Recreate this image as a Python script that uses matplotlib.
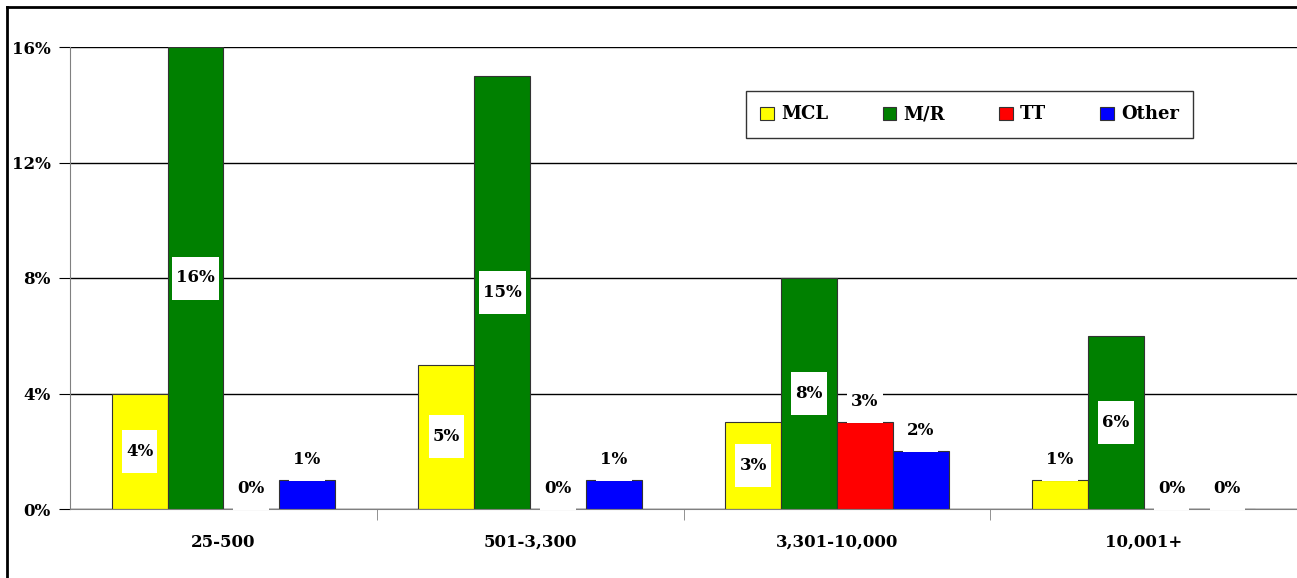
import matplotlib.pyplot as plt
from matplotlib.lines import Line2D
from matplotlib.path import Path
import numpy as np

plt.rcParams['font.family'] = 'DejaVu Serif'
plt.rcParams['font.weight'] = 'bold'

categories = ["25-500", "501-3,300", "3,301-10,000", "10,001+"]
series = ["MCL", "M/R", "TT", "Other"]
colors = ["#FFFF00", "#008000", "#FF0000", "#0000FF"]
mcl = [4, 5, 3, 1]
mr = [16, 15, 8, 6]
tt = [0, 0, 3, 0]
other = [1, 1, 2, 0]
values = [mcl, mr, tt, other]


def label_box(x0, y0, width, height, mutation_size):
    # white label background, taller than it is padded sideways
    px = 0.25 * mutation_size
    py = 0.78 * mutation_size
    x0, x1 = x0 - px, x0 + width + px
    y0, y1 = y0 - py, y0 + height + py
    return Path([(x0, y0), (x1, y0), (x1, y1), (x0, y1), (x0, y0)], closed=True)


fig = plt.figure(figsize=(12.97, 5.78), dpi=100)
ax = fig.add_axes([70 / 1297, 1 - 509 / 578, 1 - 70 / 1297, 462 / 578])

x = np.arange(len(categories))
width = 0.182
fs = 12
for i, (name, vals) in enumerate(zip(series, values)):
    pos = x + (i - 1.5) * width
    bars = ax.bar(pos, vals, width, color=colors[i], edgecolor="#333333",
                  linewidth=0.8, label=name, zorder=2)
    for b, v in zip(bars, vals):
        cx = b.get_x() + b.get_width() / 2
        box = dict(boxstyle=label_box, facecolor="white", edgecolor="none")
        if i < 2 and v >= 3:
            # big MCL / M/R bars get the label in the middle
            ax.text(cx, v / 2, f"{v}%", ha="center", va="center", fontsize=fs,
                    fontweight="bold", zorder=4, bbox=box)
        else:
            ax.annotate(f"{v}%", (cx, v), xytext=(0, 15), textcoords="offset points",
                        ha="center", va="center", fontsize=fs, fontweight="bold",
                        zorder=4, annotation_clip=False, bbox=box)

ax.set_xlim(-0.5, len(categories) - 0.5)
ax.set_ylim(0, 16)
ax.set_yticks([0, 4, 8, 12, 16])
ax.set_yticklabels([f"{t}%" for t in [0, 4, 8, 12, 16]])
ax.yaxis.grid(True, color="black", linewidth=1)
ax.set_axisbelow(True)

ax.set_xticks(x)
ax.set_xticklabels(categories)
ax.set_xticks(np.arange(len(categories)) + 0.5, minor=True)
ax.tick_params(axis="x", which="major", length=0, pad=18, labelsize=fs)
ax.tick_params(axis="x", which="minor", length=8, color="#808080", direction="out")
ax.tick_params(axis="y", length=8, color="black", labelsize=fs, pad=6)

for s in ["top", "right"]:
    ax.spines[s].set_visible(False)
ax.spines["left"].set_color("#808080")
ax.spines["bottom"].set_color("#808080")

leg = ax.legend(ncol=4, loc="upper left", bbox_to_anchor=(746 / 1297, 1 - 91 / 578),
                bbox_transform=fig.transFigure, borderaxespad=0, fontsize=13,
                frameon=True, fancybox=False, edgecolor="black",
                handlelength=0.75, handleheight=0.75, handletextpad=0.4,
                columnspacing=3.0, borderpad=0.8)
leg.get_frame().set_linewidth(1)
for t in leg.get_texts():
    t.set_fontweight("bold")

# outer chart border
fig.add_artist(Line2D([7 / 1297, 7 / 1297], [0, 1 - 7 / 578], color="black", linewidth=2))
fig.add_artist(Line2D([7 / 1297, 1], [1 - 7 / 578, 1 - 7 / 578], color="black", linewidth=2))

fig.savefig("out.png", dpi=100)
